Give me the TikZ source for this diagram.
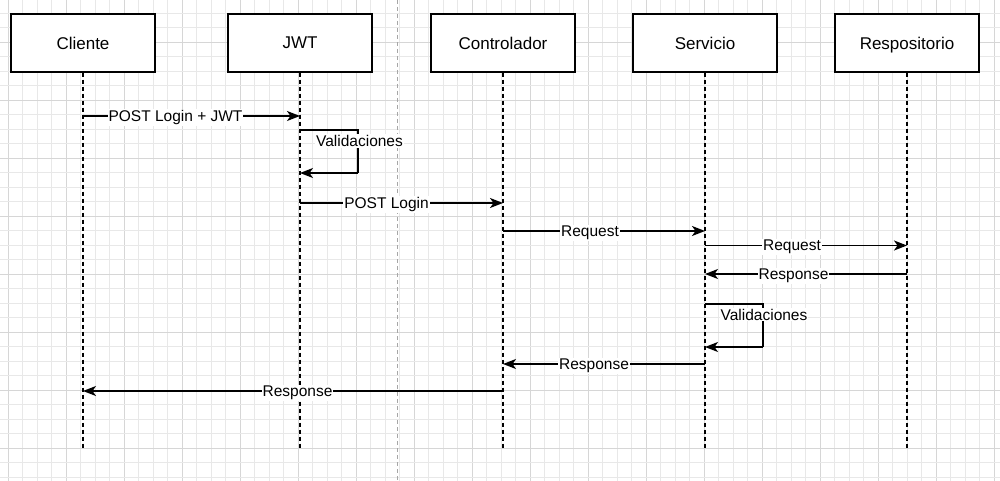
\documentclass[tikz,border=0pt]{standalone}
\usepackage{fontspec}
\setmainfont{Liberation Sans}
\usetikzlibrary{arrows.meta}
\definecolor{gridminor}{HTML}{E8E8E8}
\definecolor{gridmajor}{HTML}{D6D6D6}
\tikzset{
  actor/.style={draw=black, line width=1.3pt, fill=white, minimum width=144pt, minimum height=58pt, inner sep=0pt, font=\fontsize{17}{20}\selectfont},
  lifeline/.style={draw=black, line width=1.3pt, dash pattern=on 4pt off 3pt},
  msg/.style={draw=black, line width=1.4pt, -{Stealth[length=13pt,width=10pt,inset=3.5pt]}},
  selfline/.style={draw=black, line width=1.4pt},
  lbl/.style={fill=white, inner xsep=1pt, inner ysep=1pt, yshift=-1.6pt, font=\fontsize{15.5}{18}\selectfont},
  selflbl/.style={fill=white, inner xsep=1pt, inner ysep=1pt, font=\fontsize{15.5}{18}\selectfont},
}
\begin{document}
\begin{tikzpicture}[x=1pt,y=-1pt]
\useasboundingbox (0,0) rectangle (1000,481);
\fill[white] (0,0) rectangle (1000,481);
% grid
\foreach \k in {0,...,68} {
  \pgfmathsetmacro{\xx}{8+14.5*\k}
  \pgfmathtruncatemacro{\mm}{mod(\k,4)}
  \ifnum\mm=0 \draw[gridmajor, line width=0.9pt] (\xx,0) -- (\xx,481);
  \else \draw[gridminor, line width=0.9pt] (\xx,0) -- (\xx,481); \fi
}
\foreach \k in {0,...,32} {
  \pgfmathsetmacro{\yy}{13+14.5*\k}
  \pgfmathtruncatemacro{\mm}{mod(\k,4)}
  \ifnum\mm=2 \draw[gridmajor, line width=0.9pt] (0,\yy) -- (1000,\yy);
  \else \draw[gridminor, line width=0.9pt] (0,\yy) -- (1000,\yy); \fi
}
% page break
\draw[gray!70, line width=1pt, dash pattern=on 4pt off 3pt] (397,0) -- (397,481);

% actors
\node[actor] (cli) at (83,43) {Cliente};
\node[actor] (jwt) at (300,43) {JWT};
\node[actor] (con) at (503,43) {Controlador};
\node[actor] (ser) at (705,43) {Servicio};
\node[actor] (rep) at (907,43) {\raisebox{0pt}[\height][0pt]{Respositorio}};

% lifeline ends
\coordinate (cliE) at (83,448);
\coordinate (jwtE) at (300,448);
\coordinate (conE) at (503,448);
\coordinate (serE) at (705,448);
\coordinate (repE) at (907,448);
\foreach \a in {cli,jwt,con,ser,rep} {
  \draw[lifeline] (\a.south) -- (\a E);
}

% messages
\draw[msg] (cli |- 0,116) -- (jwt |- 0,116);
\node[lbl] (l1) at (175.5,116) {POST Login + JWT};

% self message JWT
\coordinate (s1a) at (358,130);
\coordinate (s1b) at (358,173);
\draw[selfline] (jwt |- s1a) -- (s1a) -- (s1b);
\draw[msg] (s1b) -- (jwt |- s1b);
\node[selflbl] (l2) at (359.5,141) {Validaciones};

\draw[msg] (jwt |- 0,203) -- (con |- 0,203);
\node[lbl] (l3) at (386.5,203) {POST Login};

\draw[msg] (con |- 0,231) -- (ser |- 0,231);
\node[lbl] (l4) at (590,231) {Request};

\draw[msg] (ser |- 0,245.5) -- (rep |- 0,245.5);
\node[lbl] (l5) at (792,245.5) {Request};

\draw[msg] (rep |- 0,274) -- (ser |- 0,274);
\node[lbl] (l6) at (793.5,274) {Response};

% self message Servicio
\coordinate (s2a) at (763,304);
\coordinate (s2b) at (763,347);
\draw[selfline] (ser |- s2a) -- (s2a) -- (s2b);
\draw[msg] (s2b) -- (ser |- s2b);
\node[selflbl] (l7) at (764,314.5) {Validaciones};

\draw[msg] (ser |- 0,364) -- (con |- 0,364);
\node[lbl] (l8) at (594,364) {Response};

\draw[msg] (con |- 0,391) -- (cli |- 0,391);
\node[lbl] (l9) at (297.5,391) {Response};
\end{tikzpicture}
\end{document}
